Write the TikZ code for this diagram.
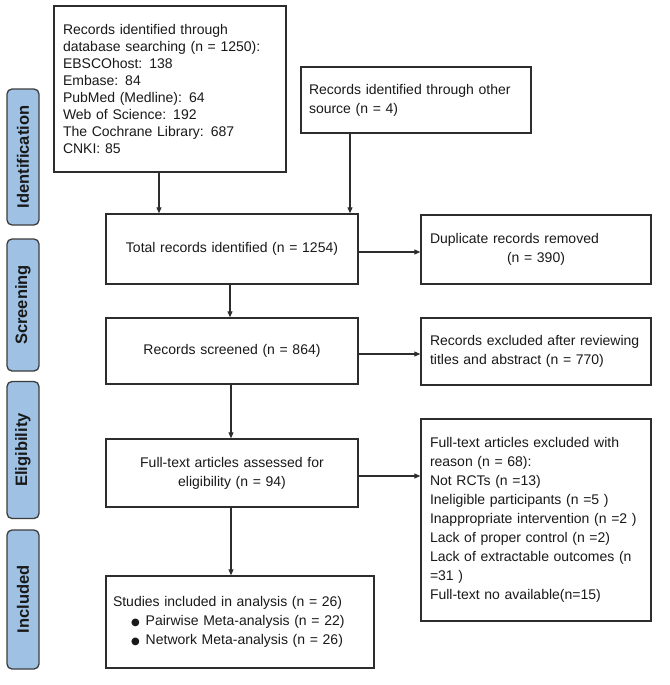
\documentclass[tikz,border=0pt]{standalone}
\usepackage{fontspec}
\setmainfont{Liberation Sans}
\newfontfamily\dejavu{DejaVu Sans}
\usetikzlibrary{arrows.meta}
\definecolor{boxline}{RGB}{45,45,45}
\definecolor{phasefill}{RGB}{158,193,228}
\definecolor{phaseline}{RGB}{60,60,60}
\definecolor{txtcol}{RGB}{25,25,25}
\newcommand{\blt}{{\dejavu\fontsize{10}{19}\selectfont ●}}
\begin{document}
\begin{tikzpicture}[x=1pt,y=-1pt,
  box/.style={draw=boxline, line width=1.4pt, fill=white, text=txtcol,
    font=\fontsize{14}{19}\selectfont, inner ysep=0pt},
  lbox/.style={box, align=left},
  cbox/.style={box, align=center},
  phase/.style={draw=phaseline, line width=1.3pt, fill=phasefill, rounded corners=5pt,
    rotate=90, minimum height=32pt, inner sep=0pt, text=txtcol,
    font=\bfseries\fontsize{16.5}{19}\selectfont},
  arr/.style={-{Triangle[length=6pt,width=5pt]}, line width=1.1pt, draw=boxline}]
\fill[white] (0,0) rectangle (669,685);
% phase labels
\node[phase, minimum width=136pt] (pid) at (23,157) {Identification};
\node[phase, minimum width=132pt] (psc) at (23,305) {Screening};
\node[phase, minimum width=137pt] (pel) at (23,450) {Eligibility};
\node[phase, minimum width=139pt] (pin) at (23,599.5) {Included};
% boxes
\node[lbox, text width=214pt, inner xsep=9pt, minimum height=166pt,
  font=\fontsize{14}{17}\selectfont] (A) at (170,89)
  {Records identified through\\database searching (n = 1250):\\EBSCOhost: 138\\Embase: 84\\PubMed (Medline): 64\\Web of Science: 192\\The Cochrane Library: 687\\CNKI: 85};
\node[lbox, text width=214pt, inner xsep=8pt, minimum height=66pt] (B) at (416,100)
  {Records identified through other\\source (n = 4)};
\node[cbox, text width=236pt, inner xsep=8pt, minimum height=70pt] (C) at (232,249)
  {Total records identified (n = 1254)};
\node[lbox, text width=212pt, inner xsep=9pt, minimum height=69pt] (D) at (536,249.5)
  {Duplicate records removed\\\hspace*{77pt}(n = 390)};
\node[cbox, text width=236pt, inner xsep=8pt, minimum height=66pt] (E) at (232,351)
  {Records screened (n = 864)};
\node[lbox, text width=212pt, inner xsep=9pt, minimum height=67pt] (F) at (536,351.5)
  {Records excluded after reviewing\\titles and abstract (n = 770)};
\node[cbox, text width=236pt, inner xsep=8pt, minimum height=68pt] (G) at (232,473)
  {Full-text articles assessed for\\eligibility (n = 94)};
\node[lbox, text width=212pt, inner xsep=9pt, minimum height=202pt] (H) at (536,520)
  {Full-text articles excluded with\\reason (n = 68):\\Not RCTs (n =13)\\Ineligible participants (n =5 )\\Inappropriate intervention (n =2 )\\Lack of proper control (n =2)\\Lack of extractable outcomes (n\\=31 )\\Full-text no available(n=15)};
\node[lbox, text width=254pt, inner xsep=7pt, minimum height=92pt] (I) at (240,622)
  {Studies included in analysis (n = 26)\\\hspace*{18pt}\blt\hspace{6pt}Pairwise Meta-analysis (n = 22)\\\hspace*{18pt}\blt\hspace{6pt}Network Meta-analysis (n = 26)};
% connectors
\draw[arr] (159,0 |- A.south) -- (159,0 |- C.north);
\draw[arr] (350,0 |- B.south) -- (350,0 |- C.north);
\draw[arr] ([yshift=-3pt]C.east) -- ([yshift=-3pt]C.east -| D.west);
\draw[arr] ([xshift=-2pt]C.south) -- ([xshift=-2pt]C.south |- E.north);
\draw[arr] ([yshift=-3pt]E.east) -- ([yshift=-3pt]E.east -| F.west);
\draw[arr] ([xshift=-1pt]E.south) -- ([xshift=-1pt]E.south |- G.north);
\draw[arr] ([yshift=-3pt]G.east) -- ([yshift=-3pt]G.east -| H.west);
\draw[arr] ([xshift=-1pt]G.south) -- ([xshift=-1pt]G.south |- I.north);
\end{tikzpicture}
\end{document}
